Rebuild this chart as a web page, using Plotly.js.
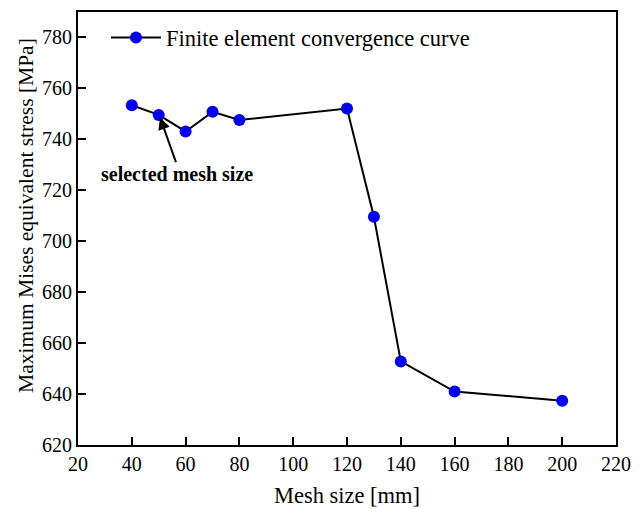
<!DOCTYPE html>
<html>
<head>
<meta charset="utf-8">
<script src="https://cdn.plot.ly/plotly-3.0.1.min.js"></script>
<style>html,body{margin:0;padding:0;background:#fff;}#chart{width:642px;height:509px;}</style>
</head>
<body>
<div id="chart"></div>
<script>
const meshSize = [40, 50, 60, 70, 80, 120, 130, 140, 160, 200];
const stress = [753.4, 749.6, 743.1, 750.8, 747.6, 752.1, 709.6, 652.8, 641.0, 637.4];
const xTicks = [20, 40, 60, 80, 100, 120, 140, 160, 180, 200, 220];
const yTicks = [620, 640, 660, 680, 700, 720, 740, 760, 780];
const seriesName = 'Finite element convergence curve';
const annText = 'selected mesh size';
const xTitle = 'Mesh size [mm]';
const yTitle = 'Maximum Mises equivalent stress [MPa]';

const font = 'Liberation Serif, Times New Roman, serif';
const trace = {
  x: meshSize, y: stress, type: 'scatter', mode: 'lines+markers', name: seriesName,
  line: {color: '#000000', width: 2},
  marker: {color: '#0000ee', size: 12}
};
const axisCommon = {
  showline: true, linecolor: '#000', linewidth: 2, mirror: true,
  ticks: 'inside', ticklen: 8, tickwidth: 2, tickcolor: '#000',
  showgrid: false, zeroline: false,
  tickfont: {family: font, size: 20, color: '#000'}
};
const layout = {
  width: 642, height: 509,
  margin: {l: 78, r: 26, t: 12, b: 64},
  paper_bgcolor: '#fff', plot_bgcolor: '#fff',
  font: {family: font, color: '#000'},
  showlegend: true,
  legend: {x: 0.052, y: 0.99, xanchor: 'left', yanchor: 'top', bgcolor: 'rgba(0,0,0,0)',
           itemwidth: 50,
           font: {family: font, size: 22.5, color: '#000'}},
  xaxis: Object.assign({}, axisCommon, {
    range: [20, 220], tickvals: xTicks, ticktext: xTicks.map(String),
    title: {text: xTitle, font: {family: font, size: 22.5, color: '#000'}, standoff: 13}
  }),
  yaxis: Object.assign({}, axisCommon, {
    range: [620, 790], tickvals: yTicks, ticktext: yTicks.map(String),
    title: {text: ''}
  }),
  annotations: [
    {x: -0.097, y: 0.531, xref: 'paper', yref: 'paper', xanchor: 'center', yanchor: 'middle',
     text: yTitle, textangle: -90, showarrow: false,
     font: {family: font, size: 21.5, color: '#000'}},
    {x: 50.5, y: 748.6, ax: 56.6, ay: 730.5, xref: 'x', yref: 'y', axref: 'x', ayref: 'y',
     text: '', showarrow: true, arrowhead: 2, arrowsize: 1.2, arrowwidth: 2, arrowcolor: '#000'},
    {x: 56.9, y: 726.3, xref: 'x', yref: 'y', text: '<b>' + annText + '</b>', showarrow: false,
     font: {family: font, size: 20, color: '#000'}}
  ]
};
Plotly.newPlot('chart', [trace], layout, {displayModeBar: false, staticPlot: true});
</script>
</body>
</html>
